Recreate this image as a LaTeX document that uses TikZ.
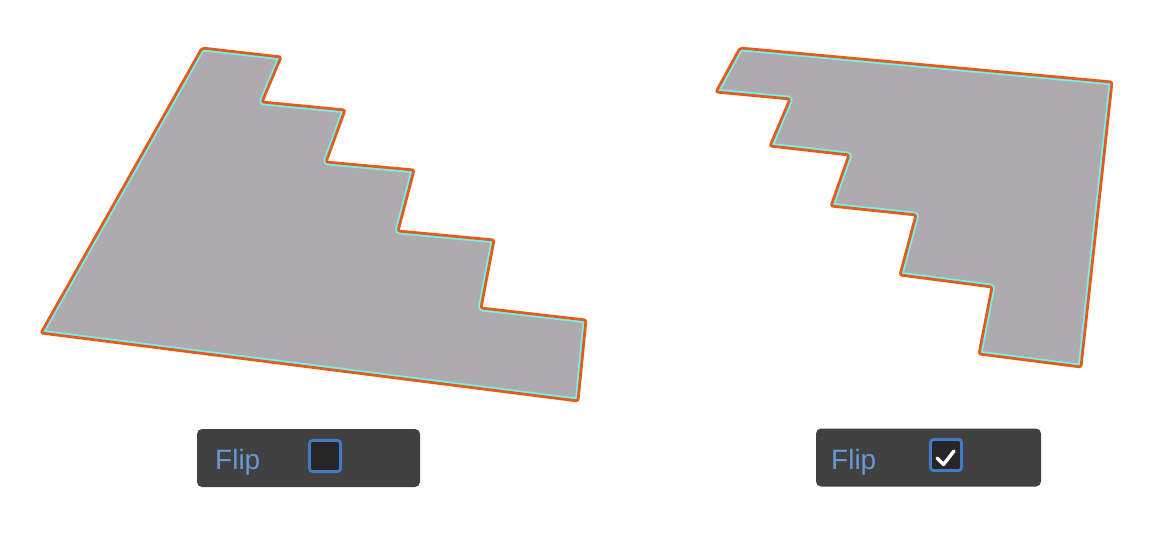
\documentclass[tikz,border=0pt]{standalone}
\usepackage{fontspec}
\setmainfont{Liberation Sans}
\definecolor{platefill}{HTML}{ADABAE}
\definecolor{rimorange}{HTML}{E85A1A}
\definecolor{rimcyan}{HTML}{6FF4F4}
\definecolor{panelgray}{HTML}{414141}
\definecolor{boxblue}{HTML}{3F7CC8}
\definecolor{boxfill}{HTML}{262626}
\definecolor{flipblue}{HTML}{6A98D6}

\begin{document}
\begin{tikzpicture}[x=1pt,y=-1pt,
plate/.style={fill=platefill,rounded corners=2pt},
innerrim/.style={draw=rimcyan,line width=6.4pt,rounded corners=2pt},
outerrim/.style={draw=rimorange,line width=2.8pt,rounded corners=2pt,line join=round},
panel/.style={fill=panelgray,rounded corners=5pt,inner sep=0pt,minimum height=58pt},
fliplabel/.style={text=flipblue,font=\fontsize{28}{30}\selectfont,inner sep=0pt,anchor=base west},
checkbox/.style={draw=boxblue,fill=boxfill,line width=2.8pt,rounded corners=3pt,inner sep=0pt,minimum size=31pt}]

\useasboundingbox (0,0) rectangle (1162,538);

% plate outlines
\def\leftplate{(202,48) -- (281,57) -- (262,102) -- (345,110) -- (326,162) -- (414,170) -- (398,231) -- (494,240) -- (481,308) -- (586,320) -- (578,401) -- (41,333) -- cycle}
\def\rightplate{(740,48) -- (1112,82) -- (1081,367) -- (979,354) -- (992,287) -- (900,275) -- (916,215) -- (831,206) -- (849,155) -- (770,146) -- (790,99) -- (716,92) -- cycle}

% plate not flipped
\fill[plate] \leftplate;
\begin{scope}
\clip[rounded corners=2pt] \leftplate;
\draw[innerrim] \leftplate;
\end{scope}
\draw[outerrim] \leftplate;

% plate flipped
\fill[plate] \rightplate;
\begin{scope}
\clip[rounded corners=2pt] \rightplate;
\draw[innerrim] \rightplate;
\end{scope}
\draw[outerrim] \rightplate;

% flip panels
\node[panel,minimum width=223pt] (lpanel) at (308.5,458) {};
\node[fliplabel] (lflip) at (215,469) {Flip};
\node[checkbox] (lbox) at (325,456) {};

\node[panel,minimum width=225pt] (rpanel) at (928.5,457.5) {};
\node[fliplabel] (rflip) at (831,469) {Flip};
\node[checkbox] (rbox) at (946,455) {};
\draw[white,line width=3.4pt,line cap=round,line join=round] (937,458) -- (943.5,464.5) -- (954,451);

\end{tikzpicture}
\end{document}
